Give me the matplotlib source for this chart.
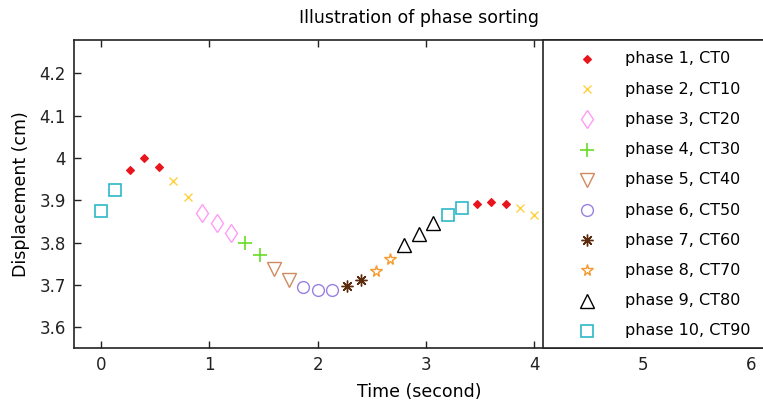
import matplotlib

matplotlib.use("Agg")

import matplotlib.pyplot as plt
from matplotlib.patches import Rectangle

plt.rcParams["font.family"] = ["DejaVu Sans"]

# sample times (s) and breathing displacement (cm)
time_s = [0.000, 0.133, 0.267, 0.400, 0.533, 0.667, 0.800, 0.933, 1.067, 1.200,
          1.333, 1.467, 1.600, 1.733, 1.867, 2.000, 2.133, 2.267, 2.400, 2.533,
          2.667, 2.800, 2.933, 3.067, 3.200, 3.333, 3.467, 3.600, 3.733, 3.867,
          4.000]
displacement = [3.875, 3.925, 3.972, 3.999, 3.980, 3.946, 3.909, 3.871, 3.847, 3.823,
                3.799, 3.770, 3.738, 3.712, 3.695, 3.688, 3.688, 3.697, 3.712, 3.734,
                3.761, 3.794, 3.820, 3.846, 3.865, 3.881, 3.891, 3.895, 3.891, 3.881,
                3.865]
# phase (1-10) assigned to each sample
phase_of_sample = [10, 10, 1, 1, 1, 2, 2, 3, 3, 3,
                   4, 4, 5, 5, 6, 6, 6, 7, 7, 8,
                   8, 9, 9, 9, 10, 10, 1, 1, 1, 2,
                   2]

phase_labels = ["phase 1, CT0", "phase 2, CT10", "phase 3, CT20", "phase 4, CT30",
                "phase 5, CT40", "phase 6, CT50", "phase 7, CT60", "phase 8, CT70",
                "phase 9, CT80", "phase 10, CT90"]

# marker styles per phase
STYLES = [
    dict(marker="D", color="#e8151c", ms=4.5, mfc="#e8151c", mew=0.8),
    dict(marker="x", color="#ffd040", ms=6, mfc="none", mew=1.0),
    dict(marker="d", color="#ff9cf5", ms=9.5, mfc="none", mew=1.0),
    dict(marker="+", color="#66dd22", ms=10, mfc="none", mew=1.2),
    dict(marker="v", color="#d08a60", ms=9.5, mfc="none", mew=1.0),
    dict(marker="o", color="#9a80e0", ms=8.5, mfc="none", mew=1.0),
    dict(marker=(8, 2, 0), color="#5c2a0c", ms=8.5, mfc="none", mew=1.0),
    dict(marker="*", color="#f59a2e", ms=8.5, mfc="none", mew=1.0),
    dict(marker="^", color="#000000", ms=9.5, mfc="none", mew=1.0),
    dict(marker="s", color="#2eb8c8", ms=8.5, mfc="none", mew=1.2),
]

fig = plt.figure(figsize=(7.63, 4.12), dpi=100)
ax = fig.add_axes([74 / 763, 64 / 412, 690 / 763, 308 / 412])

for p in range(1, 11):
    xs = [t for t, ph in zip(time_s, phase_of_sample) if ph == p]
    ys = [d for d, ph in zip(displacement, phase_of_sample) if ph == p]
    ax.plot(xs, ys, linestyle="none", zorder=3, **STYLES[p - 1])

ax.set_xlim(-0.25, 6.119)
ax.set_ylim(3.551, 4.279)
ax.set_xticks([0, 1, 2, 3, 4, 5, 6])
ax.set_yticks([3.6, 3.7, 3.8, 3.9, 4.0, 4.1, 4.2])
ax.set_yticklabels(["3.6", "3.7", "3.8", "3.9", "4", "4.1", "4.2"])
ax.tick_params(direction="in", length=5, width=1, top=True, right=False,
               labelsize=12, colors="#222222", pad=6)
for side in ["left", "bottom", "top"]:
    ax.spines[side].set_color("#222222")
    ax.spines[side].set_linewidth(1.2)
ax.spines["right"].set_visible(False)

ax.set_xlabel("Time (second)", fontsize=12.5, labelpad=6)
ax.set_ylabel("Displacement (cm)", fontsize=12.5, labelpad=7)
fig.text(419 / 763, 1 - 18 / 412, "Illustration of phase sorting", fontsize=12.5,
         ha="center", va="center")

# legend panel on the right
box_left = (543 - 74) / 690
ax.add_patch(Rectangle((box_left, 0), 1.05 - box_left, 1, transform=ax.transAxes,
                       facecolor="white", edgecolor="#222222", linewidth=1.2,
                       clip_on=False, zorder=5))
for i, label in enumerate(phase_labels):
    y_px = 59 + i * 30.2
    y_ax = (348 - y_px) / 308
    ax.plot([(587 - 74) / 690], [y_ax], transform=ax.transAxes, linestyle="none",
            clip_on=False, zorder=6, **STYLES[i])
    ax.text((625 - 74) / 690, y_ax, label, transform=ax.transAxes, fontsize=11.5,
            va="center", ha="left", zorder=6)

fig.savefig("out.png", dpi=100)
